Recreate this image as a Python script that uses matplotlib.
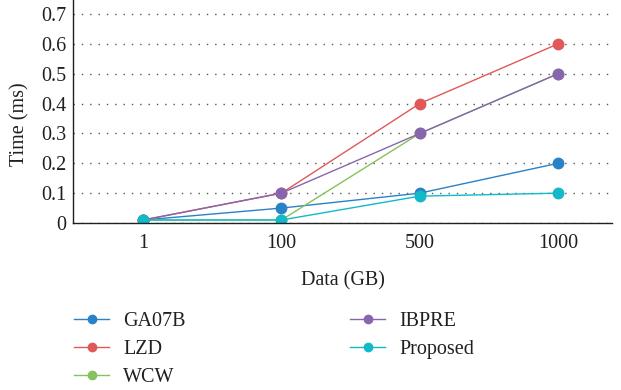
import matplotlib
matplotlib.use("Agg")
import matplotlib.pyplot as plt

categories = ["1", "100", "500", "1000"]
ga07b = [0.01, 0.05, 0.10, 0.20]
lzd = [0.01, 0.10, 0.40, 0.60]
wcw = [0.01, 0.01, 0.30, 0.50]
ibpre = [0.01, 0.10, 0.30, 0.50]
proposed = [0.01, 0.01, 0.09, 0.10]
series = [("GA07B", ga07b, "#2a82c6"), ("LZD", lzd, "#e05858"),
          ("WCW", wcw, "#84c25e"), ("IBPRE", ibpre, "#8866ae"),
          ("Proposed", proposed, "#12b9c9")]
yticks = [0, 0.1, 0.2, 0.3, 0.4, 0.5, 0.6, 0.7]
ytick_labels = ["0", "0.1", "0.2", "0.3", "0.4", "0.5", "0.6", "0.7"]

plt.rcParams['font.family'] = ['Liberation Serif', 'DejaVu Serif']
TXT = "#231f20"
FS = 14.5

fig = plt.figure(figsize=(6.21, 3.9), dpi=100)
ax = fig.add_axes([73/621, 1-223/390, (612-73)/621, 223/390])
x = list(range(len(categories)))
handles = []
for name, vals, col in series:
    h, = ax.plot(x, vals, color=col, lw=1.0, marker="o", ms=7.5, label=name)
    handles.append(h)

ax.set_xlim(-0.507, 3.39)
ax.set_ylim(0, 0.747)
ax.set_xticks(x)
ax.set_xticklabels(categories)
ax.set_yticks(yticks)
ax.set_yticklabels(ytick_labels)
ax.tick_params(length=0, labelsize=FS, colors=TXT)
ax.tick_params(axis="x", pad=8)
ax.tick_params(axis="y", pad=5)
ax.grid(axis="y", linestyle=(0, (1, 5)), color="#555555", lw=1.0)
for s in ["top", "right"]:
    ax.spines[s].set_visible(False)
for s in ["left", "bottom"]:
    ax.spines[s].set_color(TXT)
    ax.spines[s].set_linewidth(1.0)
ax.set_xlabel("Data (GB)", fontsize=FS, color=TXT, labelpad=13)
ax.set_ylabel("Time (ms)", fontsize=FS, color=TXT)
ax.yaxis.set_label_coords(-0.08, 0.443)

common = dict(loc="upper left", frameon=False, fontsize=FS, handlelength=1.75,
              labelspacing=0.45, handletextpad=0.7, borderpad=0, borderaxespad=0,
              markerscale=0.8)
leg1 = fig.legend(handles[:3], [s[0] for s in series[:3]],
                  bbox_to_anchor=(74/621, 1-312/390), **common)
leg2 = fig.legend(handles[3:], [s[0] for s in series[3:]],
                  bbox_to_anchor=(350/621, 1-312/390), **common)
for lg in (leg1, leg2):
    for t in lg.get_texts():
        t.set_color(TXT)
fig.savefig("out.png", dpi=100)
